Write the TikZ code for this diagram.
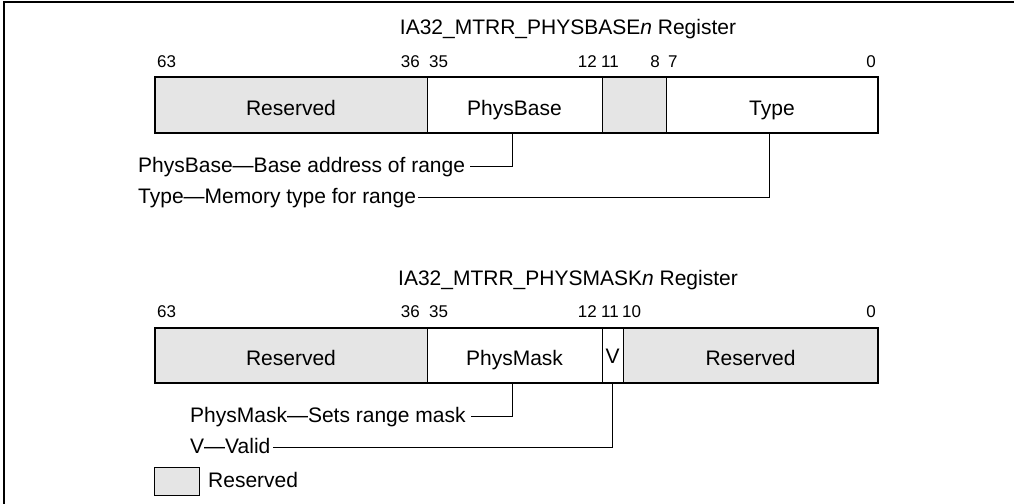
\documentclass[tikz,border=0pt]{standalone}
\usepackage{fontspec}
\setmainfont{Liberation Sans}
\definecolor{resgray}{RGB}{229,229,229}
\begin{document}
\begin{tikzpicture}[x=1pt,y=-1pt,
  main/.style={font=\fontsize{21}{25}\selectfont},
  bitlab/.style={font=\fontsize{17}{20}\selectfont, inner sep=0pt},
  field/.style={main, draw, line width=1pt, inner sep=0pt, outer sep=0pt,
    text height=20pt, text depth=0pt},
  resfield/.style={field, fill=resgray},
  desc/.style={main, inner sep=2pt, text height=15.3pt, text depth=4.4pt},
  conn/.style={line width=1pt},
  regbox/.style={line width=2pt},
  legbox/.style={draw, fill=resgray, line width=1pt, minimum width=45pt, minimum height=28pt, inner sep=0pt}
]
\useasboundingbox (0,0) rectangle (1014,503);
% frame
\draw[line width=2pt] (4,506) -- (4,2) -- (1016,2);

% ---------- PHYSBASE register ----------
\node[main, anchor=base] (title1) at (568,35) {IA32\_MTRR\_PHYSBASE\textit{n} Register};

\node[resfield, minimum width=272pt, minimum height=56pt] (res1) at (291,105) {Reserved};
\node[field, minimum width=175pt, minimum height=56pt] (pbase) at (514.5,105) {PhysBase};
\node[resfield, minimum width=64pt, minimum height=56pt] (res2) at (634,105) {};
\node[field, minimum width=212pt, minimum height=56pt] (type) at (772,105) {Type};
\draw[regbox] (res1.north west) rectangle (type.south east);

\node[bitlab, anchor=base west] (b63a) at (157,67) {63};
\node[bitlab, anchor=base east] (b36a) at (420,67) {36};
\node[bitlab, anchor=base west] (b35a) at (429,67) {35};
\node[bitlab, anchor=base east] (b12a) at (597,67) {12};
\node[bitlab, anchor=base west] (b11a) at (601,67) {11};
\node[bitlab, anchor=base east] (b8a) at (660,67) {8};
\node[bitlab, anchor=base west] (b7a) at (668,67) {7};
\node[bitlab, anchor=base east] (b0a) at (876,67) {0};

\node[desc, anchor=base west] (pbdesc) at (136,172) {PhysBase---Base address of range};
\node[desc, anchor=base west] (typedesc) at (136,203) {Type---Memory type for range};
\draw[conn] ([xshift=-2pt]pbase.south) |- ([xshift=3pt]pbdesc.east);
\draw[conn] ([xshift=-3pt]type.south) |- (typedesc.east);

% ---------- PHYSMASK register ----------
\node[main, anchor=base] (title2) at (568,285) {IA32\_MTRR\_PHYSMASK\textit{n} Register};

\node[resfield, minimum width=272pt, minimum height=55pt] (res3) at (291,355.5) {Reserved};
\node[field, minimum width=175pt, minimum height=55pt] (pmask) at (514.5,355.5) {PhysMask};
\node[field, minimum width=21pt, minimum height=55pt, text height=16pt] (vfield) at (612.5,355.5) {V};
\node[resfield, minimum width=255pt, minimum height=55pt] (res4) at (750.5,355.5) {Reserved};
\draw[regbox] (res3.north west) rectangle (res4.south east);

\node[bitlab, anchor=base west] (b63b) at (157,317) {63};
\node[bitlab, anchor=base east] (b36b) at (420,317) {36};
\node[bitlab, anchor=base west] (b35b) at (429,317) {35};
\node[bitlab, anchor=base east] (b12b) at (597,317) {12};
\node[bitlab, anchor=base west] (b11b) at (601,317) {11};
\node[bitlab, anchor=base west] (b10b) at (622,317) {10};
\node[bitlab, anchor=base east] (b0b) at (876,317) {0};

\node[desc, anchor=base west] (pmdesc) at (188,422) {PhysMask---Sets range mask};
\node[desc, anchor=base west] (vdesc) at (188,453) {V---Valid};
\draw[conn] ([xshift=-2.5pt]pmask.south) |- ([xshift=3pt]pmdesc.east);
\draw[conn] (vfield.south) |- (vdesc.east);

% ---------- legend ----------
\node[legbox] (leg) at (176.5,481) {};
\node[main, anchor=base west, inner sep=2pt] (legtext) at (206,487) {Reserved};
\end{tikzpicture}
\end{document}
